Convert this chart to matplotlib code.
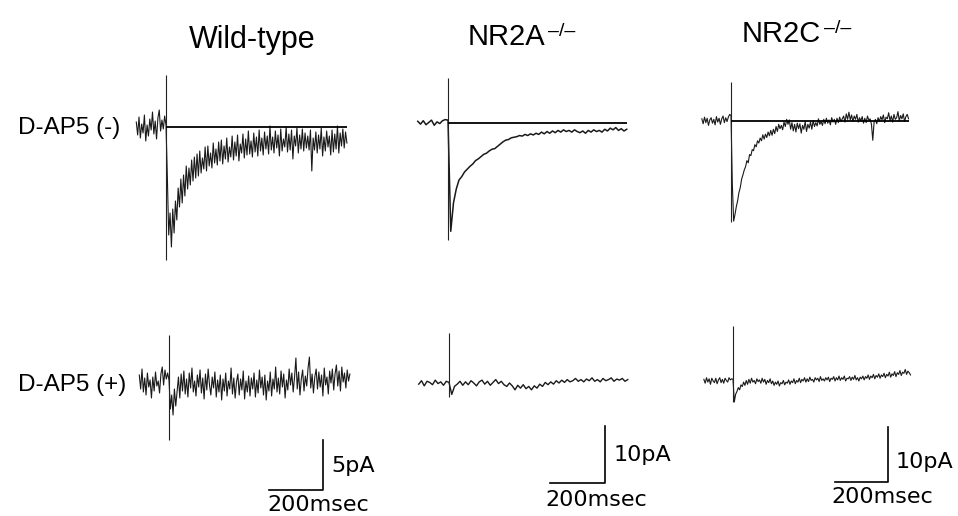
#Whole-cell traces: D-AP5 (-) / (+) for wild-type, NR2A-/- and NR2C-/-
from matplotlib import pyplot as plt
import numpy as np

W, H = 958, 516

T0 = -110
DT_FINE = 5
DT_COARSE = 10

#currents in pA
wt_ctrl = [0.5, -0.8, 1.0, -1.1, 0.3, -0.6, 1.2, -1.4, 0.2, -0.9, 0.8,
           -0.3, 1.5, -0.7, 0.6, -1.2, 0.9, 1.7, -0.4, 0.7, -0.2, 1.1,
           0.2,
           -5.0, -10.8, -8.6, -12.0, -8.2, -10.6, -7.4, -9.3, -6.1, -8.0,
           -5.2, -7.6, -4.8, -6.9, -3.9, -6.2, -4.1, -5.8, -3.3, -5.4,
           -3.0, -5.1, -2.7, -4.9, -2.4, -4.6, -3.1, -4.2, -2.0, -4.4,
           -1.9, -3.9, -2.6, -4.1, -1.6, -3.6, -2.2, -3.8, -1.5, -3.4,
           -1.3, -3.7, -1.9, -3.2, -1.1, -3.5, -2.0, -3.0, -0.9, -3.3,
           -1.5, -2.9, -0.8, -3.4, -1.7, -2.6, -0.7, -3.1, -1.2, -2.8,
           -0.4, -2.7, -1.4, -3.0, -0.6, -2.5, -1.0, -2.9, -0.3, -2.4,
           -1.1, -2.8, -0.5, -2.2, -0.9, -2.7, 0.1, -2.3, -1.0, -2.6,
           -0.4, -2.1, -0.8, -2.9, -0.2, -2.4, -1.2, -2.0, 0.0, -2.5,
           -0.7, -2.3, -0.3, -3.2, -0.9, -1.9, -0.1, -2.6, -0.8, -2.2,
           -0.2, -2.4, -0.6, -2.1, -0.9, -2.3, -0.3, -4.4, -1.1, -2.3,
           -0.5, -2.6, -0.8, -2.2, -0.1, -2.9, -1.0, -2.4, -0.4, -2.0,
           -0.9, -2.8, -0.3, -2.5, -0.7, -2.2, 0.1, -2.6, -0.6, -1.9,
           -0.2, -2.1, -0.5, -1.6]
wt_ap5 = [0.8, -0.6, 1.4, -0.9, 0.5, -1.2, 1.0, -0.4, 0.3, -1.5, 0.6,
          -0.8, 1.1, -0.3, 0.2, -1.0, 0.9, 1.6, -0.2, 1.3, 0.4, 1.0,
          0.3,
          -2.6, -1.2, -3.2, -0.6, -2.3, -0.9, 0.6, -1.5, 0.9, -0.8,
          1.2, -1.1, 0.4, -1.4, 1.0, -0.5, 1.5, -0.9, 0.2, -1.3,
          0.8, -0.4, 1.3, -1.0, 0.5, -1.6, 0.9, -0.7, 1.4, -0.2,
          -1.2, 0.6, -0.5, 1.1, -1.4, 0.3, -0.9, 0.8, -1.7, 0.4,
          -0.8, 1.0, -1.3, 0.2, -0.6, 1.5, -1.1, 0.5, -1.5, 0.1,
          0.9, -1.2, 0.4, -0.7, 1.2, -1.6, 0.2, -0.9, 0.7, -1.3,
          0.5, -0.6, 1.0, -1.4, 0.3, -1.0, 1.3, -0.5, 0.6, -1.2,
          0.8, -1.7, 0.2, -0.8, 1.1, -1.3, 0.4, -0.6, 1.6, -0.9,
          0.5, -1.1, 1.2, -0.4, 0.9, -1.5, 0.3, -0.7, 1.4, -0.2,
          1.0, -0.9, 0.6, 2.5, -0.6, 1.1, -1.2, 0.4, 1.3, -0.8,
          0.7, -0.3, 1.5, 2.6, -0.5, 0.9, -1.0, 0.6, 1.4, -0.6,
          1.1, -0.4, 0.8, -1.3, 1.5, -0.2, 0.6, -1.1, 1.2, 0.0,
          1.4, -0.7, 0.9, 1.8, -0.3, 1.2, -0.8, 1.6, 0.1, 1.0,
          -0.5, 1.3, 0.2, 0.9]

nr2a_ctrl = [0.3, -0.2, 0.4, -0.3, 0.1, 0.5, -0.4, 0.2, -0.1, 0.4, 0.6,
             0.5,
             -19.0, -14.0, -11.6, -10.0, -9.4, -8.6, -8.1, -7.6, -7.2, -6.6,
             -6.3, -5.9, -5.5, -5.3, -4.9, -4.6, -4.5, -4.1, -3.7, -3.3,
             -3.0, -2.9, -2.6, -2.5, -2.4, -2.2, -2.3, -2.0, -2.2, -1.9,
             -2.1, -1.8, -2.0, -1.6, -1.9, -1.5, -1.8, -1.4, -1.7, -1.3,
             -1.6, -1.2, -1.5, -1.3, -1.6, -1.2, -1.5, -1.7, -1.4, -1.8,
             -1.3, -1.6, -1.2, -1.5, -1.3, -1.6, -1.1, -1.4, -0.9, -1.2,
             -0.8, -1.3, -1.0, -1.4, -1.1]
nr2a_ap5 = [-0.2, 0.4, -0.5, 0.3, 0.1, -0.3, 0.5, -0.1, 0.2, -0.4, 0.3,
            0.1,
            -2.0, -0.6, -0.2, 0.3, -0.4, 0.2, -0.3, 0.4, 0.0, -0.5,
            0.2, 0.5, -0.2, 0.3, -0.4, 0.1, 0.6, -0.1, 0.3, -0.3,
            -0.6, 0.0, -0.5, -1.2, -0.4, -0.9, -0.3, -1.0, -0.6, -1.2,
            -0.5, -0.9, -0.2, -0.6, 0.1, -0.3, 0.2, -0.2, 0.4, 0.0,
            0.5, 0.1, 0.6, 0.2, 0.4, 0.8, 0.3, 0.6, 0.2, 0.7,
            0.4, 0.9, 0.3, 0.6, 0.2, 0.8, 0.4, 0.6, 0.9, 0.3,
            0.7, 0.5, 0.8, 0.3, 0.6]

nr2c_ctrl = [0.4, -0.5, 0.7, -0.3, 0.5, -0.8, 0.2, 0.6, -0.4, 0.3, -0.7,
             0.8, -0.2, 0.5, -0.6, 0.4, 0.9, -0.3, 0.6, -0.1, 0.7, 1.2,
             1.0,
             -11.5, -18.2, -17.0, -15.6, -14.5, -13.0, -12.1, -10.6, -9.8, -8.9,
             -8.3, -7.2, -7.6, -6.1, -6.3, -5.2, -5.4, -4.3, -4.7, -3.6,
             -4.0, -3.1, -3.6, -2.5, -3.3, -2.4, -3.0, -2.0, -2.7, -1.7,
             -2.6, -1.5, -2.3, -1.0, -1.9, -0.6, -1.4, -0.8, -1.6, -0.2,
             -1.0, 0.3, -0.6, 0.2, -1.5, -0.3, -1.8, -0.6, -2.0, -0.4,
             -1.4, -0.5, -2.2, -0.8, -1.5, -0.1, -1.9, -0.6, -1.3, -0.2,
             -1.5, 0.1, -1.0, -0.3, -0.9, 0.4, -0.6, -0.1, -0.8, 0.3,
             -0.5, 0.5, -0.4, 0.2, -0.7, 0.6, -0.2, 0.3, -0.6, 0.5,
             -0.3, 0.7, -0.1, 0.4, 0.9, -0.2, 1.3, 0.3, 1.6, 0.2,
             1.1, -0.1, 0.9, 0.3, 1.2, -0.2, 0.6, 0.0, 0.8, -0.4,
             0.5, -0.3, 0.9, 0.1, 0.4, -0.6, -3.5, -0.2, 0.3, -0.5,
             0.6, -0.1, 0.8, 0.2, 1.1, -0.3, 0.7, 0.4, 1.5, 0.1,
             0.9, -0.2, 1.2, 0.3, 0.6, 1.7, 0.0, 1.0, 0.4, 1.3,
             -0.1, 0.8, 1.2, 0.4]
nr2c_ap5 = [0.3, -0.4, 0.6, -0.2, 0.4, -0.6, 0.5, 0.0, -0.3, 0.5, -0.5,
            0.2, 0.6, -0.3, 0.3, -0.4, 0.5, 0.1, -0.2, 0.6, 0.2, 0.4,
            0.3,
            -3.8, -2.4, -1.9, -1.2, -1.6, -0.7, -1.0, -0.2, -0.8, 0.1,
            -0.6, 0.3, -0.4, 0.5, -0.2, 0.1, -0.5, 0.4, -0.1, 0.2,
            -0.4, 0.5, -0.2, 0.3, -0.6, 0.1, -0.3, 0.4, -0.5, 0.0,
            -0.8, -0.2, -0.6, 0.0, -0.9, -0.3, -0.5, 0.1, -0.7, -0.2,
            -0.4, 0.2, -0.6, 0.0, -0.3, 0.4, -0.5, 0.1, -0.2, 0.5,
            -0.3, 0.3, 0.0, 0.6, -0.2, 0.4, -0.1, 0.7, 0.1, 0.3,
            -0.2, 0.6, 0.2, 0.5, -0.1, 0.8, 0.1, 0.4, 0.0, 0.6,
            0.2, 0.7, -0.1, 0.5, 0.3, 0.8, 0.0, 0.6, 0.2, 0.9,
            0.1, 0.6, 0.3, 0.9, 0.0, 0.5, 0.4, 0.8, 0.1, 0.7,
            0.3, 1.0, 0.2, 0.6, 0.0, 0.7, 0.4, 0.9, 0.2, 0.8,
            0.5, 1.1, 0.3, 0.9, 0.6, 1.2, 0.4, 1.0, 0.7, 1.3,
            0.5, 1.1, 0.8, 1.4, 0.6, 1.2, 0.9, 1.6, 0.7, 1.3,
            1.0, 1.7, 0.8, 1.5, 1.2, 1.9, 1.0, 1.6, 1.4, 2.1,
            1.2, 1.8, 1.5, 1.1]

#stimulus artefact extent (pA): (top, bottom)
artefacts = {
    'wt_ctrl': (5.2, -13.3), 'wt_ap5': (4.8, -5.7),
    'nr2a_ctrl': (7.9, -20.5), 'nr2a_ap5': (8.8, -2.4),
    'nr2c_ctrl': (7.1, -18.4), 'nr2c_ap5': (10.0, -3.8),
}

#scale bars: (ms, pA, label)
BARS = [(200, 5, '5pA'), (200, 10, '10pA'), (200, 10, '10pA')]

fig = plt.figure(figsize=(W / 100, H / 100), dpi=100)


def panel(stim_x, base_y, px_ms, px_pa):
    #full-figure axes whose data origin sits at the stimulus / baseline pixel
    ax = fig.add_axes([0, 0, 1, 1])
    ax.set_xlim(-stim_x / px_ms, (W - stim_x) / px_ms)
    ax.set_ylim((base_y - H) / px_pa, base_y / px_pa)
    ax.axis('off')
    return ax


def trace(ax, vals, dt, art, baseline=False, lw=0.8):
    t = T0 + dt * np.arange(len(vals))
    ax.plot(t, vals, color='#1a1a1a', lw=lw)
    ax.vlines(0, art[1], art[0], color='#222222', lw=0.8)
    if baseline:
        ax.hlines(0, 0, t[-1], color='black', lw=1.3)


def scalebar(ax, corner_t, corner_pa, bar, lab_pa, ms_pa, ms_off):
    ms, pa, label = bar
    ax.plot([corner_t - ms, corner_t, corner_t],
            [corner_pa, corner_pa, corner_pa + pa],
            color='black', lw=1.2, clip_on=False)
    ax.text(corner_t + 30, lab_pa, label, fontsize=16,
            family='DejaVu Sans', va='center', ha='left')
    ax.text(corner_t - ms + ms_off, ms_pa, '200msec', fontsize=16,
            family='DejaVu Sans', va='center', ha='left')


#wild-type column
ax = panel(166, 127, 0.27, 10)
trace(ax, wt_ctrl, DT_FINE, artefacts['wt_ctrl'], baseline=True)
ax = panel(169, 383, 0.27, 10)
trace(ax, wt_ap5, DT_FINE, artefacts['wt_ap5'])
scalebar(ax, 570, -10.7, BARS[0], -8.3, -12.2, -4)

#NR2A-/- column
ax = panel(448, 123, 0.275, 5.7)
trace(ax, nr2a_ctrl, DT_COARSE, artefacts['nr2a_ctrl'], baseline=True, lw=1.1)
ax = panel(449, 383, 0.275, 5.7)
trace(ax, nr2a_ap5, DT_COARSE, artefacts['nr2a_ap5'], lw=1.0)
scalebar(ax, 567, -17.5, BARS[1], -12.6, -20.5, -18)

#NR2C-/- column
ax = panel(731, 121, 0.265, 5.5)
trace(ax, nr2c_ctrl, DT_FINE, artefacts['nr2c_ctrl'], baseline=True)
ax = panel(733, 381, 0.265, 5.5)
trace(ax, nr2c_ap5, DT_FINE, artefacts['nr2c_ap5'])
scalebar(ax, 585, -18.4, BARS[2], -14.7, -21.1, -12)

#titles and row labels
TITLE_FONT = 'Liberation Sans'
fig.text(252 / W, 1 - 48 / H, 'Wild-type', fontsize=22, family=TITLE_FONT,
         ha='center', va='baseline')
fig.text(468 / W, 1 - 45 / H, 'NR2A', fontsize=21, family=TITLE_FONT,
         ha='left', va='baseline')
fig.text(548 / W, 1 - 36 / H, '\u2013/\u2013', fontsize=14, family=TITLE_FONT,
         ha='left', va='baseline')
fig.text(742 / W, 1 - 42 / H, 'NR2C', fontsize=21, family=TITLE_FONT,
         ha='left', va='baseline')
fig.text(824 / W, 1 - 33 / H, '\u2013/\u2013', fontsize=14, family=TITLE_FONT,
         ha='left', va='baseline')

fig.text(18 / W, 1 - 128 / H, 'D-AP5 (-)', fontsize=17.5, family=TITLE_FONT,
         ha='left', va='center')
fig.text(18 / W, 1 - 385 / H, 'D-AP5 (+)', fontsize=17.5, family=TITLE_FONT,
         ha='left', va='center')

plt.savefig('out.png', dpi=100)
